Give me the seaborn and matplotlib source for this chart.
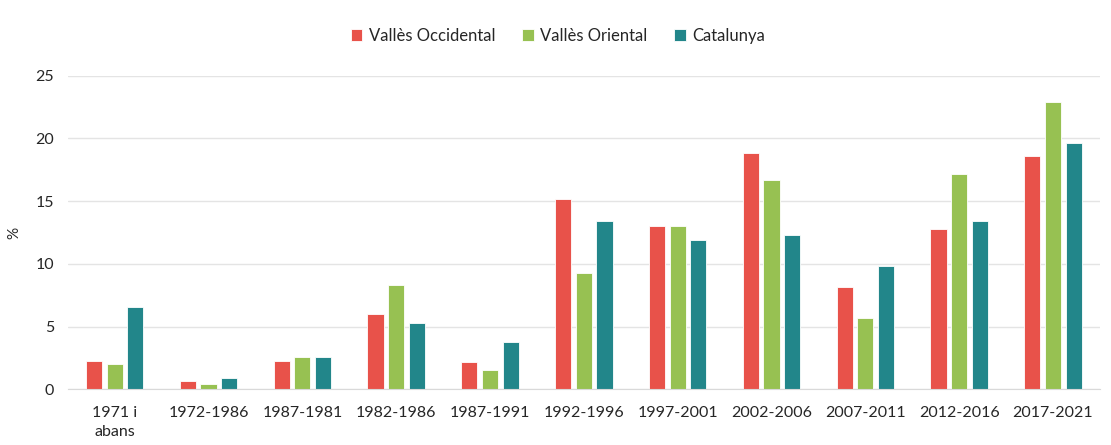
import pandas as pd
import matplotlib.pyplot as plt
import seaborn as sns
import numpy as np

periods = ['1971 i\nabans', '1972-1986', '1987-1981', '1982-1986', '1987-1991', '1992-1996',
           '1997-2001', '2002-2006', '2007-2011', '2012-2016', '2017-2021']
series = ['Vallès Occidental', 'Vallès Oriental', 'Catalunya']
occidental = [2.3, 0.65, 2.3, 6.0, 2.15, 15.2, 13.0, 18.85, 8.15, 12.8, 18.6]
oriental = [2.05, 0.45, 2.6, 8.35, 1.55, 9.3, 13.0, 16.65, 5.7, 17.2, 22.9]
catalunya = [6.55, 0.9, 2.6, 5.27, 3.8, 13.4, 11.9, 12.3, 9.85, 13.4, 19.6]
colors = ['#E8524A', '#97C152', '#22868A']

df = pd.DataFrame({'Període': periods * 3,
                   'Zona': [series[0]] * 11 + [series[1]] * 11 + [series[2]] * 11,
                   'Valor': occidental + oriental + catalunya})

sns.set_style('white')
plt.rcParams['font.family'] = ['Lato', 'DejaVu Sans']

fig, ax = plt.subplots(figsize=(11.11, 4.45), dpi=100)
fig.subplots_adjust(left=0.061, right=0.99, top=0.83, bottom=0.125)

sns.barplot(data=df, x='Període', y='Valor', hue='Zona', palette=colors, saturation=1,
            width=0.66, gap=0.22, edgecolor='white', linewidth=0.6, ax=ax)

ax.set_ylim(0, 25)
ax.set_yticks([0, 5, 10, 15, 20, 25])
ax.set_xlim(-0.5, 10.5)
ax.yaxis.grid(True, color='#E4E4E4', linewidth=1)
ax.set_axisbelow(True)
for s in ['top', 'right', 'left']:
    ax.spines[s].set_visible(False)
ax.spines['bottom'].set_color('#D9D9D9')
ax.tick_params(axis='y', length=0, labelsize=11.5, colors='#262626', pad=10)
ax.tick_params(axis='x', length=0, labelsize=11.5, colors='#262626', pad=12)
ax.set_xlabel('')
ax.set_ylabel('%', fontsize=11, color='#262626')
ax.yaxis.set_label_coords(-0.045, 0.5)
for lbl in ax.get_xticklabels():
    lbl.set_linespacing(1.45)

ax.legend(loc='upper center', bbox_to_anchor=(0.475, 1.2), ncol=3, frameon=False,
          fontsize=12, handlelength=0.7, handleheight=0.7, handletextpad=0.4,
          columnspacing=1.6, labelcolor='#262626')

plt.savefig('out.png', dpi=100)
